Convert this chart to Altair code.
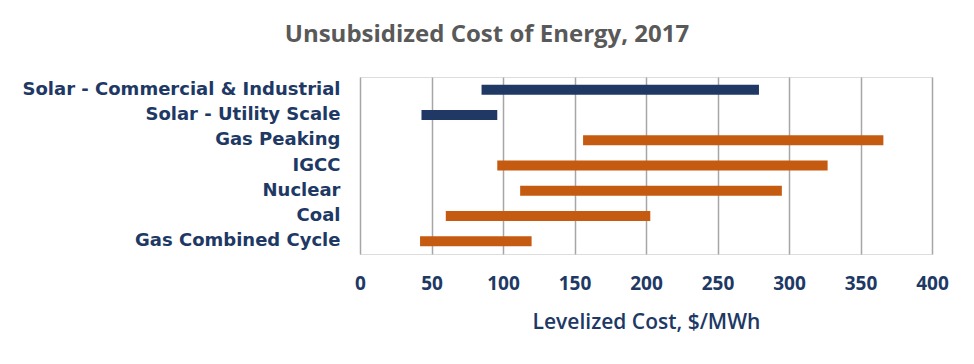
import altair as alt
import pandas as pd

technologies = [
    "Solar - Commercial & Industrial",
    "Solar - Utility Scale",
    "Gas Peaking",
    "IGCC",
    "Nuclear",
    "Coal",
    "Gas Combined Cycle",
]
low_cost = [85, 43, 156, 96, 112, 60, 42]
high_cost = [279, 96, 366, 327, 295, 203, 120]
group = ["Solar", "Solar", "Conventional", "Conventional", "Conventional", "Conventional", "Conventional"]
x_ticks = [0, 50, 100, 150, 200, 250, 300, 350, 400]

df = pd.DataFrame({"tech": technologies, "low": low_cost, "high": high_cost, "group": group})

NAVY = "#203864"

chart = alt.Chart(df).mark_bar(size=10).encode(
    y=alt.Y("tech:N", sort=technologies, title=None,
            axis=alt.Axis(domain=False, ticks=False, grid=False, labelFont="DejaVu Sans",
                          labelFontWeight="bold", labelFontSize=18, labelColor=NAVY,
                          labelPadding=20, labelLimit=0)),
    x=alt.X("low:Q", scale=alt.Scale(domain=[0, 400], nice=False),
            title="Levelized  Cost, $/MWh",
            axis=alt.Axis(values=x_ticks, domain=False, ticks=False, grid=True,
                          gridColor="#A6A6A6", gridWidth=1.5, labelFlush=False,
                          labelFont="Open Sans", labelFontWeight="bold", labelFontSize=19,
                          labelColor=NAVY, labelPadding=20,
                          titleFont="Open Sans", titleFontWeight=600, titleFontSize=21,
                          titleColor=NAVY, titlePadding=18)),
    x2="high:Q",
    color=alt.Color("group:N", scale=alt.Scale(domain=["Solar", "Conventional"],
                                               range=[NAVY, "#C55A11"]), legend=None),
).properties(
    width=572, height=177,
    autosize=alt.AutoSizeParams(type="none"),
    padding={"left": 352, "top": 69, "right": 34, "bottom": 102},
    title=alt.TitleParams("Unsubsidized Cost of Energy, 2017", font="Open Sans",
                          fontSize=24, fontWeight="bold", color="#595959",
                          anchor="middle", dx=-159, offset=30),
).configure_view(stroke=None).configure(background="white")

chart.save("out.html", embed_options={"renderer": "svg", "actions": False})
